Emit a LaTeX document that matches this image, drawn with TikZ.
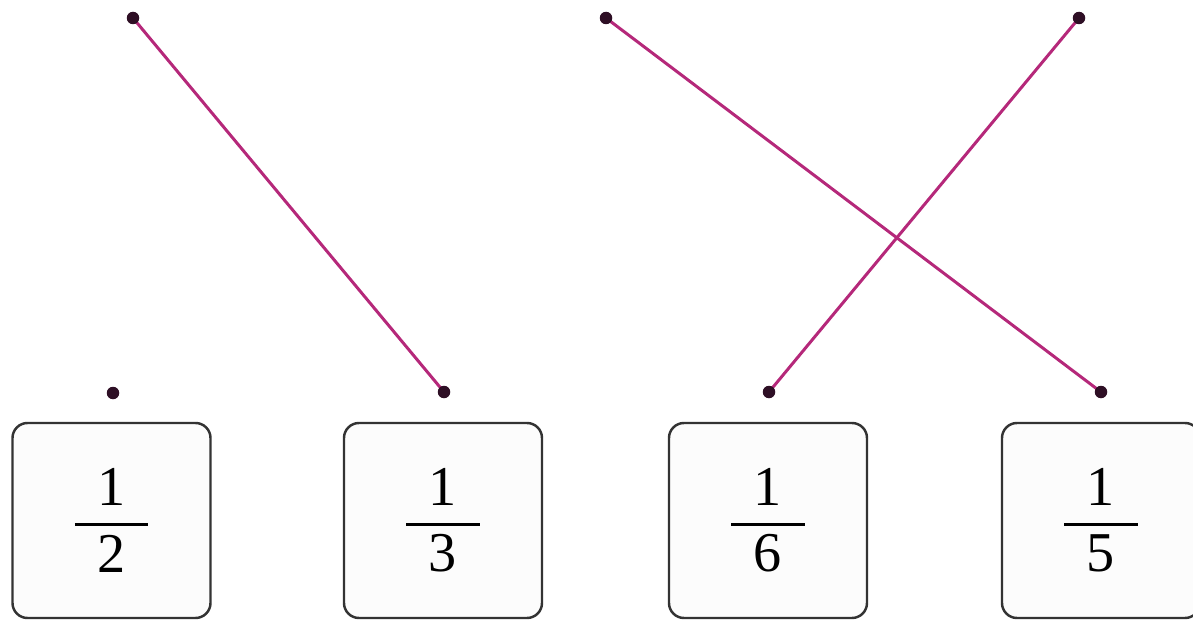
\documentclass[tikz,border=0pt]{standalone}
\usepackage{amsmath}
\usepackage{fontspec}
\setmainfont{Liberation Serif}
\usepackage{tikz}
\usetikzlibrary{backgrounds}
\definecolor{enlace}{HTML}{B5287A}
\definecolor{punto}{HTML}{2E0F25}
\definecolor{borde}{HTML}{333333}
\definecolor{fondo}{HTML}{FCFCFC}
\tikzset{
  punta/.style   = {circle, fill=punto, draw=none, inner sep=0pt, minimum size=2.5mm},
  tarjeta/.style = {draw=borde, fill=fondo, rounded corners=3mm, line width=1.4pt,
                    minimum width=39.6mm, minimum height=39mm, inner sep=0pt,
                    font=\fontsize{32}{38}\selectfont},
  union/.style   = {draw=enlace, line width=1.7pt},
}
\newcommand{\fraccion}[2]{$\genfrac{}{}{1.7pt}{0}{\text{\hspace{0.4em}#1\hspace{0.4em}}}{\text{\hspace{0.4em}#2\hspace{0.4em}}}$}

\begin{document}
\begin{tikzpicture}

\useasboundingbox (0,0) rectangle (23.86,12.4);

% =============================================================================
% Puntos de arriba y de abajo
% =============================================================================
\node[punta] (t1) at (2.66,12.04) {};
\node[punta] (t2) at (12.12,12.04) {};
\node[punta] (t3) at (21.58,12.04) {};

\node[punta] (b1) at (2.26,4.54) {};
\node[punta] (b2) at (8.88,4.56) {};
\node[punta] (b3) at (15.38,4.56) {};
\node[punta] (b4) at (22.02,4.56) {};

% =============================================================================
% Tarjetas con las fracciones
% =============================================================================
\node[tarjeta] (f1) at (2.23,1.99) {\fraccion{1}{2}};
\node[tarjeta] (f2) at (8.86,1.99) {\fraccion{1}{3}};
\node[tarjeta] (f3) at (15.36,1.99) {\fraccion{1}{6}};
\node[tarjeta] (f4) at (22.02,1.99) {\fraccion{1}{5}};

% =============================================================================
% Uniones
% =============================================================================
\begin{scope}[on background layer]
\draw[union] (t1.center) -- (b2.center);
\draw[union] (t2.center) -- (b4.center);
\draw[union] (t3.center) -- (b3.center);
\end{scope}

\end{tikzpicture}
\end{document}
